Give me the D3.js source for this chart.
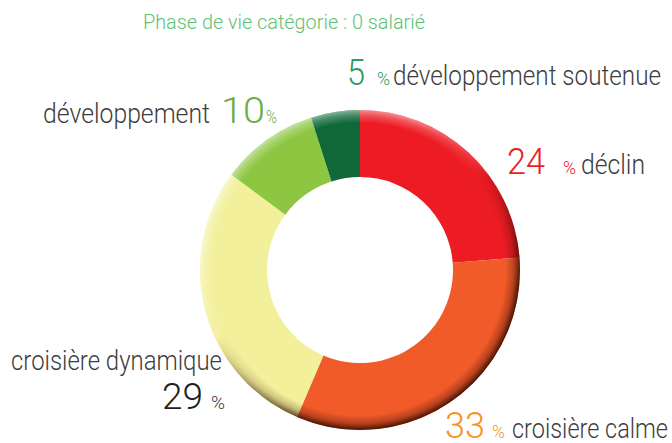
<!DOCTYPE html>
<html>
<head>
<meta charset="utf-8">
<script src="https://cdn.jsdelivr.net/npm/d3@7"></script>
<style>
  html, body { margin: 0; padding: 0; background: #fff; }
  svg { display: block; }
  text { font-family: Roboto, "Open Sans", sans-serif; font-weight: 300; }
</style>
</head>
<body>
<svg id="chart" width="672" height="443"></svg>
<script>
// Répartition des entreprises sans salarié par phase de vie
const title = "Phase de vie catégorie : 0 salarié";
const categories = ["déclin", "croisière calme", "croisière dynamique", "développement", "développement soutenue"];
const values = [24, 33, 29, 10, 5];

const sliceColors = ["#ed1c24", "#f15a29", "#f3f09b", "#8dc641", "#0e6838"];
const numberColors = ["#ed1c24", "#f7941d", "#231f20", "#6aad45", "#2e9b5e"];
const percentColors = ["#ed1c24", "#f7941d", "#3a3a3a", "#6aad45", "#2e9b5e"];

const svg = d3.select("#chart");
const W = 672, H = 443;
const cx = 360, cy = 270, rOuter = 160, rInner = 93;

// Title
svg.append("text")
  .attr("x", 143).attr("y", 29)
  .attr("font-size", 21)
  .attr("fill", "#5dc274")
  .attr("textLength", 282).attr("lengthAdjust", "spacingAndGlyphs")
  .text(title);

const defs = svg.append("defs");

// Bevel gradients for the outer rim (centred on the donut's local origin)
function rimGradient(id, color, stops) {
  const rg = defs.append("radialGradient").attr("id", id)
    .attr("gradientUnits", "userSpaceOnUse")
    .attr("cx", 0).attr("cy", 0).attr("r", rOuter);
  stops.forEach(([o, a]) => rg.append("stop").attr("offset", o)
    .attr("stop-color", color).attr("stop-opacity", a));
}
rimGradient("rimShade", "#2a0800", [[0.91, 0], [0.96, 0.3], [0.985, 0.65], [1, 0.85]]);
rimGradient("rimLight", "#ffffff", [[0.92, 0], [0.97, 0.25], [1, 0.5]]);

function direction(id, stops) {
  const lg = defs.append("linearGradient").attr("id", id)
    .attr("gradientUnits", "userSpaceOnUse")
    .attr("x1", cx - 110).attr("y1", cy - 150).attr("x2", cx + 90).attr("y2", cy + 150);
  stops.forEach(([o, c]) => lg.append("stop").attr("offset", o).attr("stop-color", c));
}
direction("dirShade", [[0, "#000"], [0.45, "#000"], [0.8, "#fff"], [1, "#fff"]]);
direction("dirLight", [[0, "#fff"], [0.25, "#fff"], [0.5, "#000"], [1, "#000"]]);

function makeMask(id, grad) {
  defs.append("mask").attr("id", id)
    .attr("maskUnits", "userSpaceOnUse")
    .attr("x", 0).attr("y", 0).attr("width", W).attr("height", H)
    .append("rect").attr("width", W).attr("height", H).attr("fill", `url(#${grad})`);
}
makeMask("maskShade", "dirShade");
makeMask("maskLight", "dirLight");

// Donut
const pie = d3.pie().sort(null).value(d => d);
const arcs = pie(values);
const arc = d3.arc().innerRadius(rInner).outerRadius(rOuter);

const g = svg.append("g").attr("transform", `translate(${cx},${cy})`);
g.selectAll("path.slice")
  .data(arcs)
  .join("path")
  .attr("class", "slice")
  .attr("d", arc)
  .attr("fill", (d, i) => sliceColors[i]);

// Rim highlight (upper left) and shadow (lower right)
const rim = d3.arc().innerRadius(rOuter * 0.9).outerRadius(rOuter)({ startAngle: 0, endAngle: 2 * Math.PI });
svg.append("g").attr("mask", "url(#maskLight)")
  .append("path").attr("transform", `translate(${cx},${cy})`)
  .attr("d", rim).attr("fill", "url(#rimLight)");
svg.append("g").attr("mask", "url(#maskShade)")
  .append("path").attr("transform", `translate(${cx},${cy})`)
  .attr("d", rim).attr("fill", "url(#rimShade)");

// Labels: number, percent sign, category name
const labelLayout = [
  { num: [507, 38], pct: [563, 13], name: [581, 64], y: 174 },
  { num: [445, 40], pct: [492, 13], name: [512, 156], y: 438 },
  { num: [162, 41], pct: [211, 14], name: [11, 211], y: 409, nameY: 370 },
  { num: [221, 44], pct: [266, 11], name: [43, 167], y: 123 },
  { num: [347, 18], pct: [377, 13], name: [393, 268], y: 85 }
];

const labels = svg.append("g");
arcs.forEach((a, i) => {
  const L = labelLayout[i];
  labels.append("text")
    .attr("x", L.num[0]).attr("y", L.y)
    .attr("font-size", 37)
    .attr("fill", numberColors[i])
    .attr("textLength", L.num[1]).attr("lengthAdjust", "spacingAndGlyphs")
    .text(a.data);
  labels.append("text")
    .attr("x", L.pct[0]).attr("y", L.y)
    .attr("font-size", 18)
    .attr("fill", percentColors[i])
    .attr("textLength", L.pct[1]).attr("lengthAdjust", "spacingAndGlyphs")
    .text("%");
  labels.append("text")
    .attr("x", L.name[0]).attr("y", L.nameY || L.y)
    .attr("font-size", 27)
    .attr("fill", "#3d3d3d")
    .attr("textLength", L.name[1]).attr("lengthAdjust", "spacingAndGlyphs")
    .text(categories[i]);
});
</script>
</body>
</html>
